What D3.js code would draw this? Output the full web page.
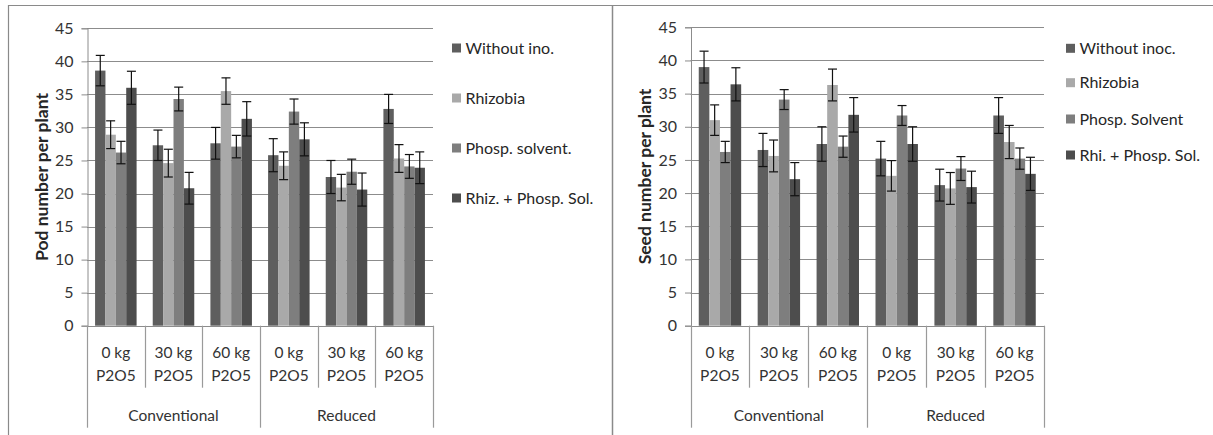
<!DOCTYPE html>
<html>
<head>
<meta charset="utf-8">
<script src="https://cdn.jsdelivr.net/npm/d3@7/dist/d3.min.js"></script>
<style>
  html, body { margin: 0; padding: 0; background: #fff; }
  svg { display: block; font-family: Lato, "Open Sans", sans-serif; }
</style>
</head>
<body>
<svg id="chart" width="1213" height="435"></svg>
<script>
// ---------- data ----------
const categories = ["0 kg P2O5", "30 kg P2O5", "60 kg P2O5", "0 kg P2O5 ", "30 kg P2O5 ", "60 kg P2O5 "];
const categoryLines = [["0 kg", "P2O5"], ["30 kg", "P2O5"], ["60 kg", "P2O5"], ["0 kg", "P2O5"], ["30 kg", "P2O5"], ["60 kg", "P2O5"]];
const systems = ["Conventional", "Reduced"];
const yTicks = [0, 5, 10, 15, 20, 25, 30, 35, 40, 45];

const podSeriesNames = ["Without ino.", "Rhizobia", "Phosp. solvent.", "Rhiz. + Phosp. Sol."];
const podWithout  = [38.6, 27.3, 27.6, 25.8, 22.5, 32.8];
const podRhizobia = [28.9, 24.6, 35.5, 24.2, 20.9, 25.3];
const podPhosp    = [26.2, 34.3, 27.1, 32.4, 23.3, 24.1];
const podBoth     = [36.0, 20.8, 31.3, 28.2, 20.6, 23.9];
const podWithoutErr  = [2.3, 2.3, 2.4, 2.5, 2.5, 2.2];
const podRhizobiaErr = [2.1, 2.1, 2.0, 2.1, 2.0, 2.1];
const podPhospErr    = [1.7, 1.8, 1.7, 1.9, 1.9, 1.8];
const podBothErr     = [2.5, 2.4, 2.6, 2.5, 2.5, 2.4];

const seedSeriesNames = ["Without inoc.", "Rhizobia", "Phosp. Solvent", "Rhi. + Phosp. Sol."];
const seedWithout  = [39.0, 26.5, 27.4, 25.2, 21.2, 31.7];
const seedRhizobia = [31.0, 25.6, 36.3, 22.6, 20.7, 27.7];
const seedPhosp    = [26.2, 34.1, 27.0, 31.7, 23.7, 25.2];
const seedBoth     = [36.4, 22.1, 31.8, 27.4, 20.9, 22.9];
const seedWithoutErr  = [2.4, 2.5, 2.6, 2.6, 2.4, 2.7];
const seedRhizobiaErr = [2.3, 2.4, 2.4, 2.3, 2.4, 2.5];
const seedPhospErr    = [1.6, 1.5, 1.6, 1.5, 1.8, 1.6];
const seedBothErr     = [2.5, 2.5, 2.6, 2.6, 2.4, 2.5];

const seriesColors = ["#5e5e5e", "#a9a9a9", "#7e7e7e", "#4d4d4d"];

// ---------- drawing ----------
const svg = d3.select("#chart");
const FONT = "Lato, 'Open Sans', sans-serif";

// outer frames
const frameColor = "#8a8a8a";
svg.append("line").attr("x1", 8).attr("x2", 1213).attr("y1", 5.5).attr("y2", 5.5)
  .attr("stroke", frameColor).attr("stroke-width", 1.2);
svg.append("line").attr("x1", 8.5).attr("x2", 8.5).attr("y1", 5).attr("y2", 435)
  .attr("stroke", frameColor).attr("stroke-width", 1.2);
svg.append("line").attr("x1", 612.5).attr("x2", 612.5).attr("y1", 5).attr("y2", 435)
  .attr("stroke", frameColor).attr("stroke-width", 1.5);

function drawChart(cfg) {
  const g = svg.append("g");
  const x0 = d3.scaleBand().domain(categories).range([cfg.left, cfg.right]).padding(0);
  const gw = x0.bandwidth();
  const x1 = d3.scaleBand().domain(d3.range(cfg.series.length))
    .range([gw * 0.14, gw * 0.86]).padding(0);
  const y = d3.scaleLinear().domain([0, 45]).range([cfg.bottom, cfg.top]);

  // gridlines
  g.append("g").selectAll("line").data(yTicks.filter(d => d > 0)).join("line")
    .attr("x1", cfg.left).attr("x2", cfg.right)
    .attr("y1", d => Math.round(y(d)) + 0.5).attr("y2", d => Math.round(y(d)) + 0.5)
    .attr("stroke", "#8c8c8c").attr("stroke-width", 1);

  // y axis
  const yAxis = d3.axisLeft(y).tickValues(yTicks).tickSize(6).tickPadding(8);
  const ya = g.append("g").attr("transform", `translate(${cfg.left + 0.5},0)`).call(yAxis);
  ya.select(".domain").attr("stroke", "#8c8c8c");
  ya.selectAll(".tick line").attr("stroke", "#8c8c8c");
  ya.selectAll(".tick text").attr("font-size", 16).attr("fill", "#333")
    .attr("font-family", FONT);

  // bars
  const groups = g.append("g").selectAll("g").data(categories).join("g")
    .attr("transform", d => `translate(${x0(d)},0)`);
  groups.each(function (cat, ci) {
    const sel = d3.select(this);
    cfg.series.forEach((vals, si) => {
      sel.append("rect")
        .attr("x", x1(si)).attr("width", x1.bandwidth())
        .attr("y", y(vals[ci])).attr("height", y(0) - y(vals[ci]))
        .attr("fill", seriesColors[si]);
    });
    cfg.series.forEach((vals, si) => {
      const cx = x1(si) + x1.bandwidth() / 2;
      const hi = y(vals[ci] + cfg.errors[si][ci]);
      const lo = y(vals[ci] - cfg.errors[si][ci]);
      sel.append("line").attr("x1", cx).attr("x2", cx).attr("y1", hi).attr("y2", lo)
        .attr("stroke", "#111").attr("stroke-width", 1.2);
      [hi, lo].forEach(yy => {
        sel.append("line").attr("x1", cx - 4.5).attr("x2", cx + 4.5).attr("y1", yy).attr("y2", yy)
          .attr("stroke", "#111").attr("stroke-width", 1.2);
      });
    });
  });

  // x axis line
  g.append("line").attr("x1", cfg.left).attr("x2", cfg.right)
    .attr("y1", Math.round(y(0)) + 0.5).attr("y2", Math.round(y(0)) + 0.5)
    .attr("stroke", "#8c8c8c");

  // category separators
  const sepColor = "#9a9a9a";
  const boundaries = categories.map(c => x0(c)).concat([cfg.right]);
  boundaries.forEach((bx, i) => {
    const outer = (i === 0 || i === 3 || i === 6);
    g.append("line").attr("x1", Math.round(bx) + 0.5).attr("x2", Math.round(bx) + 0.5)
      .attr("y1", y(0)).attr("y2", outer ? cfg.bottom + 102 : cfg.bottom + 62)
      .attr("stroke", sepColor).attr("stroke-width", 1.2);
  });

  // category labels
  categories.forEach((c, i) => {
    const cx = x0(c) + gw / 2;
    const t = g.append("text").attr("x", cx).attr("text-anchor", "middle")
      .attr("font-size", 15.5).attr("fill", "#333");
    categoryLines[i].forEach((ln, li) => {
      t.append("tspan").attr("x", cx).attr("y", cfg.bottom + 32.5 + li * 22.3).text(ln);
    });
  });
  systems.forEach((s, i) => {
    const cx = x0(categories[i * 3]) + gw * 1.5;
    g.append("text").attr("x", cx).attr("y", cfg.bottom + 95).attr("text-anchor", "middle")
      .attr("font-size", 15.5).attr("fill", "#333").text(s);
  });

  // axis title
  g.append("text")
    .attr("transform", `translate(${cfg.titleX},${(cfg.top + cfg.bottom) / 2}) rotate(-90)`)
    .attr("text-anchor", "middle").attr("dy", "0.35em")
    .attr("font-size", cfg.titleSize).attr("font-weight", "bold").attr("fill", "#262626")
    .text(cfg.title);

  // legend
  const lg = g.append("g");
  cfg.names.forEach((n, i) => {
    const ly = cfg.legendY[i];
    lg.append("rect").attr("x", cfg.legendX).attr("y", ly - 4.5).attr("width", 9).attr("height", 9)
      .attr("fill", seriesColors[i]);
    lg.append("text").attr("x", cfg.legendX + 13.5).attr("y", ly).attr("dy", "0.36em")
      .attr("font-size", 16).attr("fill", "#262626").text(n);
  });
}

drawChart({
  left: 87, right: 433, top: 28.3, bottom: 325.7,
  series: [podWithout, podRhizobia, podPhosp, podBoth],
  errors: [podWithoutErr, podRhizobiaErr, podPhospErr, podBothErr],
  names: podSeriesNames,
  title: "Pod number per plant", titleX: 41.5, titleSize: 17.5,
  legendX: 452, legendY: [48, 98, 148, 198]
});

drawChart({
  left: 690.5, right: 1044, top: 27.3, bottom: 325.7,
  series: [seedWithout, seedRhizobia, seedPhosp, seedBoth],
  errors: [seedWithoutErr, seedRhizobiaErr, seedPhospErr, seedBothErr],
  names: seedSeriesNames,
  title: "Seed number per plant", titleX: 645, titleSize: 17.5,
  legendX: 1066, legendY: [48.3, 82.7, 119, 155]
});
</script>
</body>
</html>
